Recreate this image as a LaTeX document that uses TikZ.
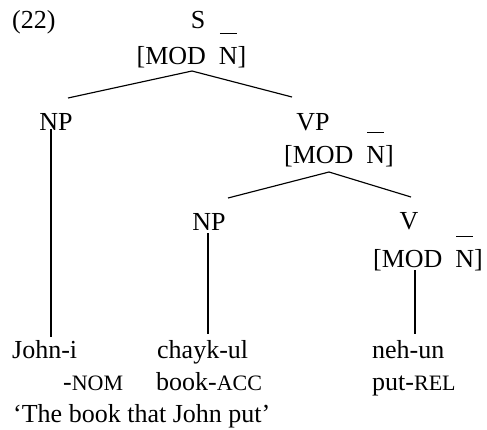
\documentclass[tikz,border=0pt]{standalone}
\usepackage{fontspec}
\setmainfont{Liberation Serif}
\newcommand\barN{\makebox[0pt][l]{\hspace{0.04em}\raisebox{1.15em}{\rule{0.64em}{0.045em}}}N}
\newcommand\smc[1]{{\fontsize{22}{24}\selectfont #1}}
\newcommand\feat{[MOD\ \ \barN]}
\begin{document}
\begin{tikzpicture}[x=1pt,y=-1pt,
  lbl/.style={inner sep=0pt,font=\fontsize{26}{30}\selectfont},
  edge/.style={line width=1.15pt}]
\useasboundingbox (0,0) rectangle (487,429);
% labels
\node[lbl,anchor=base west] (ex) at (12,28) {(22)};
\node[lbl,anchor=base] (s) at (198,28) {S};
\node[lbl,anchor=base] (sf) at (191.5,64) {\feat};
\node[lbl,anchor=base] (np1) at (56,130) {NP};
\node[lbl,anchor=base] (vp) at (313,130) {VP};
\node[lbl,anchor=base] (vpf) at (339,163) {\feat};
\node[lbl,anchor=base] (np2) at (209,230) {NP};
\node[lbl,anchor=base] (v) at (409,229) {V};
\node[lbl,anchor=base] (vf) at (428,267) {\feat};
\node[lbl,anchor=base west] (w1) at (12,358) {John-i};
\node[lbl,anchor=base west] (g1) at (63,390) {-\smc{NOM}};
\node[lbl,anchor=base west] (w2) at (157,358) {chayk-ul};
\node[lbl,anchor=base west] (g2) at (156,390) {book-\smc{ACC}};
\node[lbl,anchor=base west] (w3) at (372,358) {neh-un};
\node[lbl,anchor=base west] (g3) at (372,390) {put-\smc{REL}};
\node[lbl,anchor=base west] (tr) at (13,422) {‘The book that John put’};
% connector ends
\coordinate (sA) at (192,71);
\coordinate (sL) at (68,98);
\coordinate (sR) at (292,97);
\coordinate (np1B) at (51,129);
\coordinate (w1T) at (51,337);
\coordinate (vpA) at (329,172);
\coordinate (vpL) at (228,198);
\coordinate (vpR) at (411,197);
\coordinate (np2B) at (208,233);
\coordinate (w2T) at (208,334);
\coordinate (vB) at (415,270);
\coordinate (w3T) at (415,334);
\draw[edge] (sA) -- (sL);
\draw[edge] (sA) -- (sR);
\draw[edge] (np1B) -- (w1T);
\draw[edge] (vpA) -- (vpL);
\draw[edge] (vpA) -- (vpR);
\draw[edge] (np2B) -- (w2T);
\draw[edge] (vB) -- (w3T);
\end{tikzpicture}
\end{document}
